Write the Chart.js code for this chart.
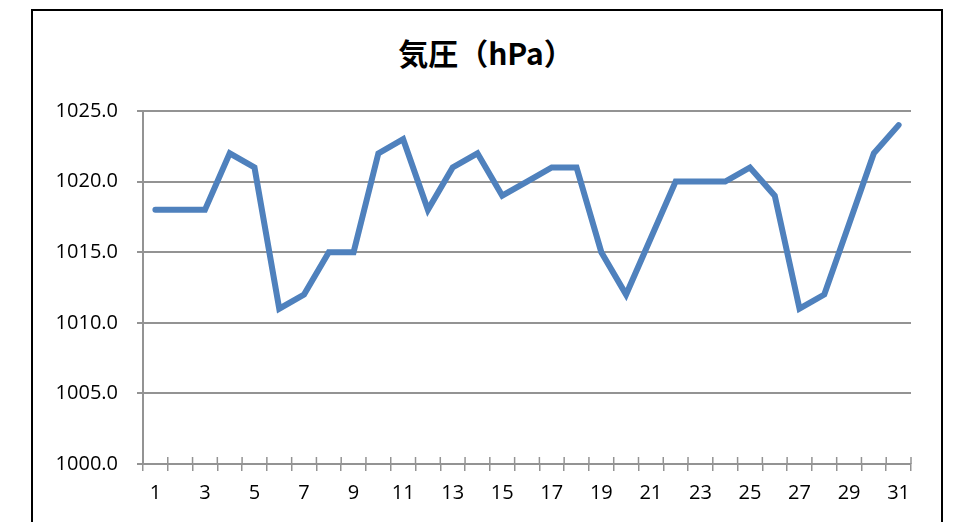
<!DOCTYPE html>
<html>
<head>
<meta charset="utf-8">
<script src="https://cdn.jsdelivr.net/npm/chart.js@4"></script>
<style>
  html, body { margin: 0; padding: 0; background: #fff; }
  #wrap { position: relative; width: 964px; height: 522px; }
  #frame { position: absolute; left: 31px; top: 9px; width: 908px; height: 520px;
           border: 2px solid #000; border-bottom: none; }
  #title { position: absolute; left: 0; width: 964px; top: 30px; text-align: center;
           font-family: "Noto Sans CJK JP", sans-serif; font-weight: bold; font-size: 30px;
           line-height: 44px; color: #000; padding-left: 4px; }
  canvas { position: absolute; left: 0; top: 0; }
</style>
</head>
<body>
<div id="wrap">
  <div id="frame"></div>
  <div id="title">気圧（hPa）</div>
  <canvas id="chartPressure" width="964" height="522"></canvas>
</div>
<script>
const days = ['1','2','3','4','5','6','7','8','9','10','11','12','13','14','15','16',
              '17','18','19','20','21','22','23','24','25','26','27','28','29','30','31'];
const pressure = [1018, 1018, 1018, 1022, 1021, 1011, 1012, 1015, 1015, 1022, 1023, 1018, 1021, 1022, 1019, 1020,
                  1021, 1021, 1015, 1012, 1016, 1020, 1020, 1020, 1021, 1019, 1011, 1012, 1017, 1022, 1024];
const yMin = 1000;
const yMax = 1025;
const yStep = 5;

const gridColor = '#939393';

// tick marks on the category axis cross the axis line, so draw the upper half too
const crossTicks = {
    id: 'crossTicks',
    afterDraw(chart) {
        const x = chart.scales.x;
        const ctx = chart.ctx;
        const step = x.getPixelForValue(1) - x.getPixelForValue(0);
        ctx.save();
        ctx.strokeStyle = gridColor;
        ctx.lineWidth = 1.5;
        for (let i = 0; i <= days.length; i++) {
            const px = x.getPixelForValue(i) - step / 2;
            ctx.beginPath();
            ctx.moveTo(px, x.top - 7);
            ctx.lineTo(px, x.top);
            ctx.stroke();
        }
        ctx.restore();
    }
};

const ctx = document.getElementById('chartPressure').getContext('2d');

new Chart(ctx, {
    type: 'line',
    data: {
        labels: days,
        datasets: [{
            label: '気圧',
            data: pressure,
            borderColor: '#4f81bd',
            borderWidth: 6,
            borderCapStyle: 'round',
            pointRadius: 0,
            tension: 0,
            fill: false
        }]
    },
    options: {
        animation: false,
        responsive: false,
        layout: { padding: { top: 111, right: 53, bottom: 0, left: 0 } },
        plugins: {
            legend: { display: false },
            tooltip: { enabled: false },
            title: { display: false }
        },
        scales: {
            x: {
                offset: true,
                grid: { offset: true, drawOnChartArea: false, color: gridColor, lineWidth: 1.5, tickLength: 7 },
                border: { color: gridColor, width: 2 },
                ticks: {
                    autoSkip: false,
                    maxRotation: 0,
                    color: '#000',
                    padding: 10,
                    font: { family: '"Open Sans", "Noto Sans", sans-serif', size: 20 },
                    callback: (v, i) => (i % 2 === 0 ? days[i] : '')
                },
                afterFit: s => { s.height = 58; }
            },
            y: {
                min: yMin,
                max: yMax,
                grid: { color: gridColor, lineWidth: 2, tickLength: 6 },
                border: { color: gridColor, width: 2 },
                ticks: {
                    stepSize: yStep,
                    color: '#000',
                    padding: 19,
                    font: { family: '"Open Sans", "Noto Sans", sans-serif', size: 20 },
                    callback: v => v.toFixed(1)
                },
                afterFit: s => { s.width = 143; }
            }
        }
    },
    plugins: [crossTicks]
});
</script>
</body>
</html>
